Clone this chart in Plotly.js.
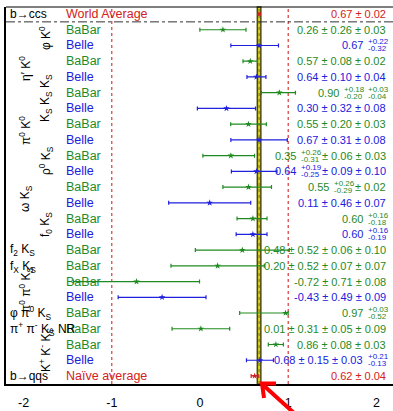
<!DOCTYPE html>
<html><head><meta charset="utf-8">
<script src="https://cdn.plot.ly/plotly-3.0.1.min.js"></script>
<style>html,body{margin:0;padding:0;overflow:hidden;background:#fff}#chart{width:400px;height:411px}</style>
</head><body><div id="chart"></div>
<script>
// ---------------- data ----------------
const experiments = ['World Average','BaBar','Belle','BaBar','Belle','BaBar','Belle','BaBar','Belle','BaBar','Belle','BaBar','Belle','BaBar','Belle','BaBar','BaBar','BaBar','Belle','BaBar','BaBar','BaBar','Belle','Naïve average'];
const values    = [0.67,0.26,0.67,0.57,0.64,0.90,0.30,0.55,0.67,0.35,0.64,0.55,0.11,0.60,0.60,0.48,0.20,-0.72,-0.43,0.97,0.01,0.86,0.68,0.62];
const err1Plus  = [0.02,0.26,0.22,0.08,0.10,0.18,0.32,0.20,0.31,0.26,0.19,0.26,0.46,0.16,0.16,0.52,0.52,0.71,0.49,0.03,0.31,0.08,0.15,0.04];
const err1Minus = [0.02,0.26,0.32,0.08,0.10,0.20,0.32,0.20,0.31,0.31,0.25,0.29,0.46,0.18,0.19,0.52,0.52,0.71,0.49,0.52,0.31,0.08,0.15,0.04];
const err2Plus  = [null,0.03,null,0.02,0.04,0.03,0.08,0.03,0.08,0.06,0.09,0.02,0.07,null,null,0.06,0.07,0.08,0.09,null,0.05,0.03,0.03,null];
const err2Minus = [null,0.03,null,0.02,0.04,0.04,0.08,0.03,0.08,0.06,0.09,0.02,0.07,null,null,0.06,0.07,0.08,0.09,null,0.05,0.03,0.03,null];
const err3Plus  = [null,null,null,null,null,null,null,null,null,0.03,0.10,null,null,null,null,0.10,0.07,null,null,null,0.09,null,0.21,null];
const err3Minus = [null,null,null,null,null,null,null,null,null,0.03,0.10,null,null,null,null,0.10,0.07,null,null,null,0.09,null,0.13,null];
const decayLabels = ['b→ccs','φ K<sup>0</sup>','η′ K<sup>0</sup>','K<sub>S</sub> K<sub>S</sub> K<sub>S</sub>','π<sup>0</sup> K<sup>0</sup>','ρ<sup>0</sup> K<sub>S</sub>','ω K<sub>S</sub>','f<sub>0</sub> K<sub>S</sub>','f<sub>2</sub> K<sub>S</sub>','f<sub>X</sub> K<sub>S</sub>','π<sup>0</sup> π<sup>0</sup> K<sub>S</sub>','φ π<sup>0</sup> K<sub>S</sub>','π<sup>+</sup> π<sup>-</sup> K<sub>S</sub> NR','K<sup>+</sup> K<sup>-</sup> K<sub>S</sub>','b→qqs'];
const xTicks = [-2,-1,0,1,2];
const xTickLabels = ['-2','-1','0','1','2'];
const worldAvgBand = [0.65, 0.69];

// ---------------- layout helpers ----------------
const W = 400, H = 411, ML = 6, MR = 6, MT = 7, MB = 27;
const PW = W - ML - MR, PH = H - MT - MB;
const px2paperX = p => (p - ML) / PW;
const px2paperY = p => (H - MB - p) / PH;
const FONT = 'Liberation Sans, Arial, sans-serif';
const COL = {BaBar:'#1f8a1f', Belle:'#2020dd', avg:'#d42020'};
const colorOf = e => e === 'BaBar' ? COL.BaBar : (e === 'Belle' ? COL.Belle : COL.avg);

const rowY = values.map((v, i) => -i);
const quad = i => {
  let p = err1Plus[i]**2, m = err1Minus[i]**2;
  if (err2Plus[i] != null) { p += err2Plus[i]**2; m += err2Minus[i]**2; }
  if (err3Plus[i] != null && err3Plus[i] === err3Minus[i]) { p += err3Plus[i]**2; m += err3Minus[i]**2; }
  return [Math.sqrt(p), Math.sqrt(m)];
};

const traces = [];
function addGroup(pred, color, opts) {
  const idx = experiments.map((e, i) => i).filter(i => pred(experiments[i]));
  traces.push(Object.assign({
    type:'scatter', mode:'markers',
    x: idx.map(i => values[i]), y: idx.map(i => rowY[i]),
    error_x: {type:'data', symmetric:false, array: idx.map(i => quad(i)[0]), arrayminus: idx.map(i => quad(i)[1]),
              color: color, thickness: 1.2, width: 2},
    marker: {symbol:'star', size:5, color: color},
    hoverinfo:'skip', cliponaxis:false
  }, opts || {}));
}
addGroup(e => e === 'BaBar', COL.BaBar);
addGroup(e => e === 'Belle', COL.Belle);
addGroup(e => e === 'Naïve average', COL.avg);
addGroup(e => e === 'World Average', COL.avg);
traces[3].error_x.thickness = 3; traces[3].error_x.width = 0; traces[3].marker = {symbol:'square', size:3, color:COL.avg};

// ---------------- text ----------------
const cv = document.createElement('canvas').getContext('2d');
function tw(s, size) { cv.font = size + 'px "Liberation Sans"'; return cv.measureText(s).width; }
const fmt = v => v.toFixed(2);
function rowItems(i) {
  const items = [{t: fmt(values[i])}];
  [[err1Plus, err1Minus], [err2Plus, err2Minus], [err3Plus, err3Minus]].forEach(([p, m]) => {
    if (p[i] == null) return;
    if (p[i] === m[i]) {
      const last = items[items.length - 1];
      if (last.t !== undefined) last.t += ' ± ' + fmt(p[i]);
      else items.push({t: '± ' + fmt(p[i])});
    } else items.push({hi: '+' + fmt(p[i]), lo: '-' + fmt(m[i])});
  });
  return items;
}
const annotations = [];
const VAL_SIZE = 11, SM_SIZE = 8, RIGHT_PX = 387;
values.forEach((v, i) => {
  const col = colorOf(experiments[i]);
  const items = rowItems(i);
  let off = 0;
  const gap = tw(' ', VAL_SIZE);
  for (let k = items.length - 1; k >= 0; k--) {
    const it = items[k];
    const base = {xref:'paper', yref:'y', x: px2paperX(RIGHT_PX), y: rowY[i], xanchor:'right', yanchor:'middle',
                  showarrow:false, borderpad:0, xshift: -off};
    if (it.t !== undefined) {
      annotations.push(Object.assign({}, base, {text: it.t, font:{family:FONT, size:VAL_SIZE, color:col}}));
      off += tw(it.t, VAL_SIZE) + gap;
    } else {
      const w = Math.max(tw(it.hi, SM_SIZE), tw(it.lo, SM_SIZE));
      annotations.push(Object.assign({}, base, {text: it.hi, xanchor:'left', xshift: -off - w, yshift: 3.5, font:{family:FONT, size:SM_SIZE, color:col}}));
      annotations.push(Object.assign({}, base, {text: it.lo, xanchor:'left', xshift: -off - w, yshift: -3.5, font:{family:FONT, size:SM_SIZE, color:col}}));
      off += w + gap;
    }
  }
  // experiment name
  annotations.push({xref:'paper', yref:'y', x: px2paperX(65), y: rowY[i], xanchor:'left', yanchor:'middle',
    showarrow:false, borderpad:0, text: experiments[i], font:{family:FONT, size:12.5, color:col}});
});

// decay-mode labels: [cx or left px, cy px, rotated]
const decayPlace = [[9,14,false],[45,38,true],[25,69,true],[46,98,true],[25,131,true],[46,161,true],[26,199,true],[46,225,true],
  [9,250,false],[9,267,false],[26,290,true],[9,313,false],[9,329,false],[46,350,true],[9,376,false]];
decayLabels.forEach((lab, k) => {
  const [px, py, rot] = decayPlace[k];
  annotations.push({xref:'paper', yref:'paper', x: px2paperX(px), y: px2paperY(py),
    xanchor: rot ? 'center' : 'left', yanchor:'middle', textangle: rot ? -90 : 0,
    showarrow:false, borderpad:0, text: lab, font:{family:FONT, size:12, color:'black'}});
});
annotations.push({xref:'paper', yref:'paper', x: px2paperX(384), y: px2paperY(2), xanchor:'right', yanchor:'bottom',
  showarrow:false, borderpad:0, text:'PRELIMINARY', font:{family:FONT, size:10, color:'black'}});

// ---------------- shapes ----------------
const shapes = [
  {type:'rect', xref:'x', yref:'paper', x0: worldAvgBand[0], x1: worldAvgBand[1], y0:0, y1:1, fillcolor:'#ddd420', line:{color:'#4b4812', width:1.5}, layer:'below'},
  {type:'line', xref:'x', yref:'paper', x0: values[0], x1: values[0], y0:0, y1:1, line:{color:'#7a7510', width:1, dash:'dot'}, layer:'below'},
  {type:'line', xref:'x', yref:'paper', x0:-1, x1:-1, y0:0, y1:1, line:{color:'#cc1010', width:1, dash:'dot'}, layer:'below'},
  {type:'line', xref:'x', yref:'paper', x0:1, x1:1, y0:0, y1:1, line:{color:'#cc1010', width:1, dash:'dot'}, layer:'below'},
  {type:'line', xref:'paper', yref:'y', x0:0, x1:1, y0:-0.5, y1:-0.5, line:{color:'#333', width:1, dash:'dashdot'}, layer:'below'},
  {type:'line', xref:'paper', yref:'paper', x0:0, x1:1, y0:1, y1:1, line:{color:'black', width:1}},
  // red arrow
  {type:'line', xref:'paper', yref:'paper', x0:px2paperX(262), y0:px2paperY(384), x1:px2paperX(294), y1:px2paperY(413), line:{color:'#ff0000', width:4}},
  {type:'path', xref:'paper', yref:'paper',
   path: 'M ' + px2paperX(264) + ' ' + px2paperY(398) + ' L ' + px2paperX(262) + ' ' + px2paperY(383.5) + ' L ' + px2paperX(276) + ' ' + px2paperY(383.5),
   line:{color:'#ff0000', width:4}}
];

const layout = {
  width: W, height: H, margin:{l:ML, r:MR, t:MT, b:MB},
  paper_bgcolor:'white', plot_bgcolor:'white', showlegend:false,
  font:{family:FONT, size:12, color:'black'},
  xaxis:{range:[-2.2, 2.2], tickvals:xTicks, ticktext:xTickLabels, showgrid:false, zeroline:false,
         showline:true, linewidth:2, linecolor:'black', ticks:'', ticklabelstandoff:6,
         tickfont:{family:FONT, size:12.5, color:'black'}, fixedrange:true},
  yaxis:{range:[-23.51, 0.445], showgrid:false, zeroline:false, showline:true, linewidth:2, linecolor:'black',
         showticklabels:false, ticks:'', fixedrange:true},
  shapes: shapes, annotations: annotations
};
Plotly.newPlot('chart', traces, layout, {displayModeBar:false, staticPlot:true});
</script></body></html>
